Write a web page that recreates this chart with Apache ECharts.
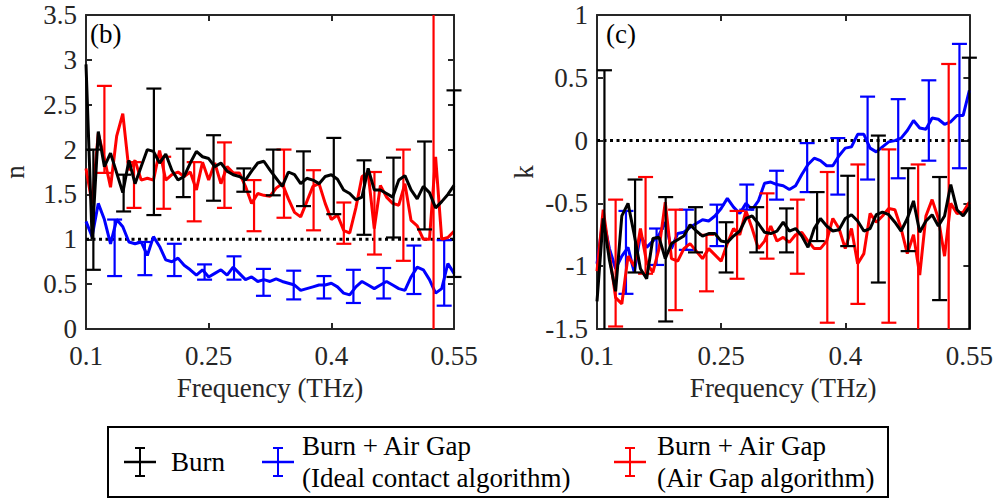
<!DOCTYPE html>
<html>
<head>
<meta charset="utf-8">
<script src="https://cdn.jsdelivr.net/npm/echarts@6/dist/echarts.min.js"></script>
<style>html,body{margin:0;padding:0;background:#fff}#chart{width:996px;height:504px}</style>
</head>
<body>
<div id="chart"></div>
<script>
// ---------- DATA ----------
const freq = [0.1,0.1075,0.115,0.1225,0.13,0.1375,0.145,0.1525,0.16,0.1675,0.175,0.1825,0.19,0.1975,0.205,0.2125,0.22,0.2275,0.235,0.2425,0.25,0.2575,0.265,0.2725,0.28,0.2875,0.295,0.3025,0.31,0.3175,0.325,0.3325,0.34,0.3475,0.355,0.3625,0.37,0.3775,0.385,0.3925,0.4,0.4075,0.415,0.4225,0.43,0.4375,0.445,0.4525,0.46,0.4675,0.475,0.4825,0.49,0.4975,0.505,0.5125,0.52,0.5275,0.535,0.5425,0.55];

// panel (b): refractive index n
const nBurn = [2.95,1.0,2.2,1.81,1.96,1.74,1.52,1.88,1.62,1.81,2.0,1.98,1.85,1.95,1.77,1.66,1.7,1.85,1.98,1.92,1.9,1.81,1.85,1.76,1.72,1.7,1.66,1.76,1.85,1.87,1.77,1.68,1.59,1.75,1.72,1.62,1.68,1.66,1.62,1.70,1.72,1.67,1.55,1.51,1.44,1.47,1.79,1.55,1.55,1.51,1.47,1.66,1.71,1.55,1.45,1.59,1.52,1.35,1.42,1.50,1.60];
const nIdeal = [1.20,1.03,1.40,1.22,0.95,1.22,1.14,0.97,0.95,0.97,0.82,1.03,0.92,0.77,0.75,0.79,0.71,0.66,0.60,0.66,0.58,0.62,0.66,0.60,0.69,0.62,0.55,0.58,0.53,0.55,0.53,0.56,0.53,0.51,0.49,0.43,0.45,0.47,0.49,0.49,0.51,0.47,0.40,0.38,0.47,0.53,0.49,0.45,0.49,0.53,0.49,0.45,0.43,0.58,0.69,0.66,0.55,0.40,0.45,0.73,0.62];
const nAirGap = [1.79,1.4,2.18,1.9,1.58,2.15,2.40,1.77,1.88,1.66,1.68,1.66,1.99,1.66,1.72,1.75,1.70,1.75,1.55,1.86,1.66,1.85,1.62,1.81,1.74,1.74,1.59,1.40,1.51,1.49,1.48,1.57,1.62,1.45,1.30,1.25,1.42,1.59,1.62,1.40,1.22,1.27,1.10,1.07,1.35,1.70,1.74,1.12,1.60,1.47,1.40,1.38,1.62,1.21,1.15,1.0,1.0,1.92,1.0,1.02,1.09];

// panel (c): extinction coefficient k
const kBurn = [-1.28,-0.62,-0.95,-1.20,-0.60,-0.50,-0.75,-1.02,-1.10,-0.78,-0.77,-0.94,-0.82,-0.79,-0.76,-0.67,-0.72,-0.76,-0.74,-0.74,-0.80,-0.81,-0.76,-0.72,-0.62,-0.60,-0.66,-0.73,-0.74,-0.72,-0.65,-0.72,-0.70,-0.76,-0.85,-0.70,-0.62,-0.68,-0.72,-0.71,-0.62,-0.59,-0.64,-0.72,-0.70,-0.59,-0.57,-0.59,-0.65,-0.72,-0.62,-0.48,-0.73,-0.64,-0.59,-0.68,-0.60,-0.35,-0.55,-0.60,-0.53];
const kIdeal = [-0.98,-0.62,-0.86,-1.02,-0.92,-0.85,-1.05,-0.75,-0.85,-0.80,-0.75,-0.65,-0.86,-0.74,-0.73,-0.69,-0.66,-0.63,-0.64,-0.60,-0.54,-0.46,-0.53,-0.58,-0.50,-0.55,-0.48,-0.34,-0.33,-0.35,-0.36,-0.39,-0.36,-0.27,-0.19,-0.14,-0.16,-0.20,-0.20,-0.12,-0.06,-0.05,0.05,0.05,-0.06,-0.09,-0.05,-0.01,0.0,0.02,0.08,0.16,0.10,0.09,0.18,0.17,0.13,0.15,0.20,0.20,0.40];
const kAirGap = [-1.04,-0.55,-0.90,-1.25,-1.30,-0.92,-1.00,-0.70,-0.97,-1.05,-0.86,-0.49,-0.94,-0.96,-0.86,-0.82,-0.88,-0.94,-0.86,-0.91,-0.96,-0.82,-0.70,-0.75,-0.56,-0.70,-0.86,-0.80,-0.68,-0.80,-0.77,-0.81,-0.75,-0.73,-0.80,-0.86,-0.86,-0.80,-0.62,-0.70,-0.86,-0.70,-0.98,-0.90,-0.58,-0.65,-0.60,-0.54,-0.55,-0.70,-0.90,-0.75,-1.07,-0.60,-0.47,-0.62,-0.92,-0.50,-0.58,-0.57,-0.49];

// error bars (frequency, low, high)
const errFreqBurn = [0.109,0.146,0.183,0.219,0.256,0.293,0.329,0.366,0.403,0.44,0.476,0.514,0.55];
const nBurnLow  = [0.66,1.31,1.27,1.47,1.43,1.53,1.49,1.37,1.28,1.05,1.02,1.11,0.58];
const nBurnHigh = [2.0,1.72,2.68,2.01,2.16,1.79,2.0,1.98,2.13,1.88,1.91,2.09,2.66];
const kBurnLow  = [-1.8,-1.05,-1.44,-0.89,-1.05,-0.89,-0.89,-0.80,-0.84,-1.13,-0.88,-1.27,-1.75];
const kBurnHigh = [0.56,-0.31,-0.45,-0.53,-0.65,-0.53,-0.54,-0.41,-0.28,0.04,-0.22,-0.29,0.66];

const errFreqIdeal = [0.135,0.172,0.208,0.245,0.281,0.317,0.354,0.391,0.427,0.464,0.501,0.538];
const nIdealLow  = [0.59,0.60,0.59,0.55,0.55,0.37,0.33,0.34,0.29,0.34,0.39,0.26];
const nIdealHigh = [1.22,0.97,0.95,0.72,0.81,0.67,0.65,0.59,0.66,0.68,0.93,0.99];
const kIdealLow  = [-1.22,-0.99,-0.87,-0.84,-0.55,-0.47,-0.41,-0.43,-0.31,-0.30,-0.16,-0.22];
const kIdealHigh = [-0.56,-0.70,-0.55,-0.51,-0.35,-0.24,-0.02,0.02,0.35,0.33,0.48,0.77];

const errFreqAirGap = [0.1225,0.1587,0.195,0.2323,0.2693,0.3055,0.3421,0.3783,0.4153,0.4527,0.4881,0.525];
const nAirGapLow  = [1.74,1.35,1.34,1.20,1.35,1.09,1.24,1.10,0.95,0.83,0.76,-1.0];
const nAirGapHigh = [2.71,1.86,1.92,1.86,2.08,1.66,2.0,1.77,1.41,1.75,2.0,4.5];
const kAirGapLow  = [-1.48,-1.06,-1.35,-1.20,-1.10,-0.94,-1.06,-1.45,-1.30,-1.45,-1.52,-1.8];
const kAirGapHigh = [-0.47,-0.29,-0.55,-0.75,-0.56,-0.42,-0.47,-0.25,-0.19,-0.07,-0.19,0.61];

// axes / labels
const xTicks = [0.1,0.25,0.4,0.55];
const xTickLabels = ['0.1','0.25','0.4','0.55'];
const xTitle = 'Frequency (THz)';
const yTitles = ['n','k'];
const panelLabels = ['(b)','(c)'];
const refLevels = [1, 0];
const seriesNames = ['Burn','Burn + Air Gap (Ideal contact algorithm)','Burn + Air Gap (Air Gap algorithm)'];
const legendLines = [['Burn'],['Burn + Air Gap','(Ideal contact algorithm)'],['Burn + Air Gap','(Air Gap algorithm)']];
const colors = ['#000000','#0000ff','#ff0000'];

// ---------- CHART ----------
const FONT = 'Liberation Serif, serif';
const FS = 27;
const AX = '#262626';
const chart = echarts.init(document.getElementById('chart'), null, {renderer:'svg'});

const gridDefs = [{left:81, top:15, width:373, height:314},{left:597, top:15, width:373, height:314}];
const yRanges = [[0,3.5],[-1.5,1]];

function zip(xs, ys){ return xs.map((x,i)=>[x, ys[i]]); }
function zip3(xs, lo, hi){ return xs.map((x,i)=>[x, lo[i], hi[i]]); }
function fmtX(v){ let b=0; xTicks.forEach((t,i)=>{ if(Math.abs(t-v)<Math.abs(xTicks[b]-v)) b=i; }); return xTickLabels[b]; }

const xAxes = [], yAxes = [];
gridDefs.forEach((g, gi) => {
  ['bottom','top'].forEach(pos => {
    const main = pos === 'bottom';
    xAxes.push({
      type:'value', gridIndex:gi, position:pos, min:0.1, max:0.55,
      axisLine:{show:true, onZero:false, lineStyle:{color:AX, width:2}},
      axisTick:{show:true, inside:true, length:6, lineStyle:{color:AX, width:2}, customValues:xTicks},
      axisLabel:{show:main, customValues:xTicks, formatter:fmtX, margin:14, lineHeight:26, color:AX, fontFamily:FONT, fontSize:FS},
      splitLine:{show:false},
      name: main ? xTitle : '', nameLocation:'middle', nameGap:40,
      nameTextStyle:{color:AX, fontFamily:FONT, fontSize:FS}
    });
  });
  ['left','right'].forEach(pos => {
    const main = pos === 'left';
    yAxes.push({
      type:'value', gridIndex:gi, position:pos, min:yRanges[gi][0], max:yRanges[gi][1], interval:0.5,
      axisLine:{show:true, onZero:false, lineStyle:{color:AX, width:2}},
      axisTick:{show:true, inside:true, length:6, lineStyle:{color:AX, width:2}},
      axisLabel:{show:main, margin:9, lineHeight:26, color:AX, fontFamily:FONT, fontSize:FS},
      splitLine:{show:false},
      name: main ? yTitles[gi] : '', nameLocation:'middle', nameGap: gi===0 ? 58 : 60, nameRotate:90,
      nameTextStyle:{color:AX, fontFamily:FONT, fontSize:FS}
    });
  });
});

function errRender(color){
  return function(params, api){
    const x = api.value(0), lo = api.value(1), hi = api.value(2);
    const cs = params.coordSys;
    const pHi = api.coord([x, hi]), pLo = api.coord([x, lo]);
    const top = cs.y, bot = cs.y + cs.height;
    const y1 = Math.max(pHi[1], top), y2 = Math.min(pLo[1], bot);
    const hw = 7.5;
    const st = {stroke:color, lineWidth:2.2};
    const ch = [{type:'line', shape:{x1:pHi[0], y1:y1, x2:pHi[0], y2:y2}, style:st}];
    if (pHi[1] >= top - 0.5) ch.push({type:'line', shape:{x1:pHi[0]-hw, y1:pHi[1], x2:pHi[0]+hw, y2:pHi[1]}, style:st});
    if (pLo[1] <= bot + 0.5) ch.push({type:'line', shape:{x1:pLo[0]-hw, y1:pLo[1], x2:pLo[0]+hw, y2:pLo[1]}, style:st});
    return {type:'group', children:ch};
  };
}

const panels = [
  {lines:[nIdeal, nAirGap, nBurn],
   err:[[errFreqIdeal,nIdealLow,nIdealHigh],[errFreqAirGap,nAirGapLow,nAirGapHigh],[errFreqBurn,nBurnLow,nBurnHigh]]},
  {lines:[kIdeal, kAirGap, kBurn],
   err:[[errFreqIdeal,kIdealLow,kIdealHigh],[errFreqAirGap,kAirGapLow,kAirGapHigh],[errFreqBurn,kBurnLow,kBurnHigh]]}
];
const order = [1,2,0]; // blue, red, black (black drawn on top)

const series = [];
panels.forEach((p, gi) => {
  const xi = gi*2, yi = gi*2;
  series.push({
    type:'line', name:'ref'+gi, xAxisIndex:xi, yAxisIndex:yi, silent:true, symbol:'none',
    data:[[0.1, refLevels[gi]],[0.55, refLevels[gi]]],
    lineStyle:{color:'#000', width:3, type:[3,3.5]}, z:1
  });
  p.lines.forEach((vals, j) => {
    const ci = order[j];
    series.push({
      type:'line', name:seriesNames[ci], xAxisIndex:xi, yAxisIndex:yi, symbol:'none', showSymbol:false,
      data:zip(freq, vals), clip:true, lineStyle:{color:colors[ci], width:3}, itemStyle:{color:colors[ci]}, z:2+j
    });
    const e = p.err[j];
    series.push({
      type:'custom', name:seriesNames[ci], xAxisIndex:xi, yAxisIndex:yi,
      data:zip3(e[0], e[1], e[2]), encode:{x:0, y:[1,2]},
      renderItem:errRender(colors[ci]), z:2+j
    });
  });
});

// legend + panel labels drawn as graphics
const graphics = [];
panelLabels.forEach((t, gi) => {
  graphics.push({type:'text', x:gridDefs[gi].left + 9, y:34,
    style:{text:t, fontFamily:FONT, fontSize:FS, fill:'#000', verticalAlign:'middle'}});
});
const lgBox = {x:108, y:427, w:780, h:70};
graphics.push({type:'rect', shape:{x:lgBox.x, y:lgBox.y, width:lgBox.w, height:lgBox.h},
  style:{fill:'#fff', stroke:'#000', lineWidth:2}});
const iconCx = [140, 278, 630], textX = [171, 302, 657];
const cy = lgBox.y + lgBox.h/2;
legendLines.forEach((lines, i) => {
  const c = colors[i], cx = iconCx[i];
  const st = {stroke:c, lineWidth:2.5};
  graphics.push({type:'line', shape:{x1:cx-16, y1:cy, x2:cx+16, y2:cy}, style:st});
  graphics.push({type:'line', shape:{x1:cx, y1:cy-14, x2:cx, y2:cy+14}, style:{stroke:c, lineWidth:2}});
  graphics.push({type:'line', shape:{x1:cx-5, y1:cy-14, x2:cx+5, y2:cy-14}, style:{stroke:c, lineWidth:2}});
  graphics.push({type:'line', shape:{x1:cx-5, y1:cy+14, x2:cx+5, y2:cy+14}, style:{stroke:c, lineWidth:2}});
  const lh = 32;
  lines.forEach((t, k) => {
    const ty = cy + (k - (lines.length-1)/2) * lh;
    graphics.push({type:'text', x:textX[i], y:ty,
      style:{text:t, fontFamily:FONT, fontSize:FS, fill:'#000', verticalAlign:'middle'}});
  });
});

chart.setOption({
  animation:false,
  backgroundColor:'#fff',
  grid:gridDefs.map(g => Object.assign({containLabel:false}, g)),
  xAxis:xAxes, yAxis:yAxes, series:series, graphic:graphics
});
</script>
</body>
</html>
